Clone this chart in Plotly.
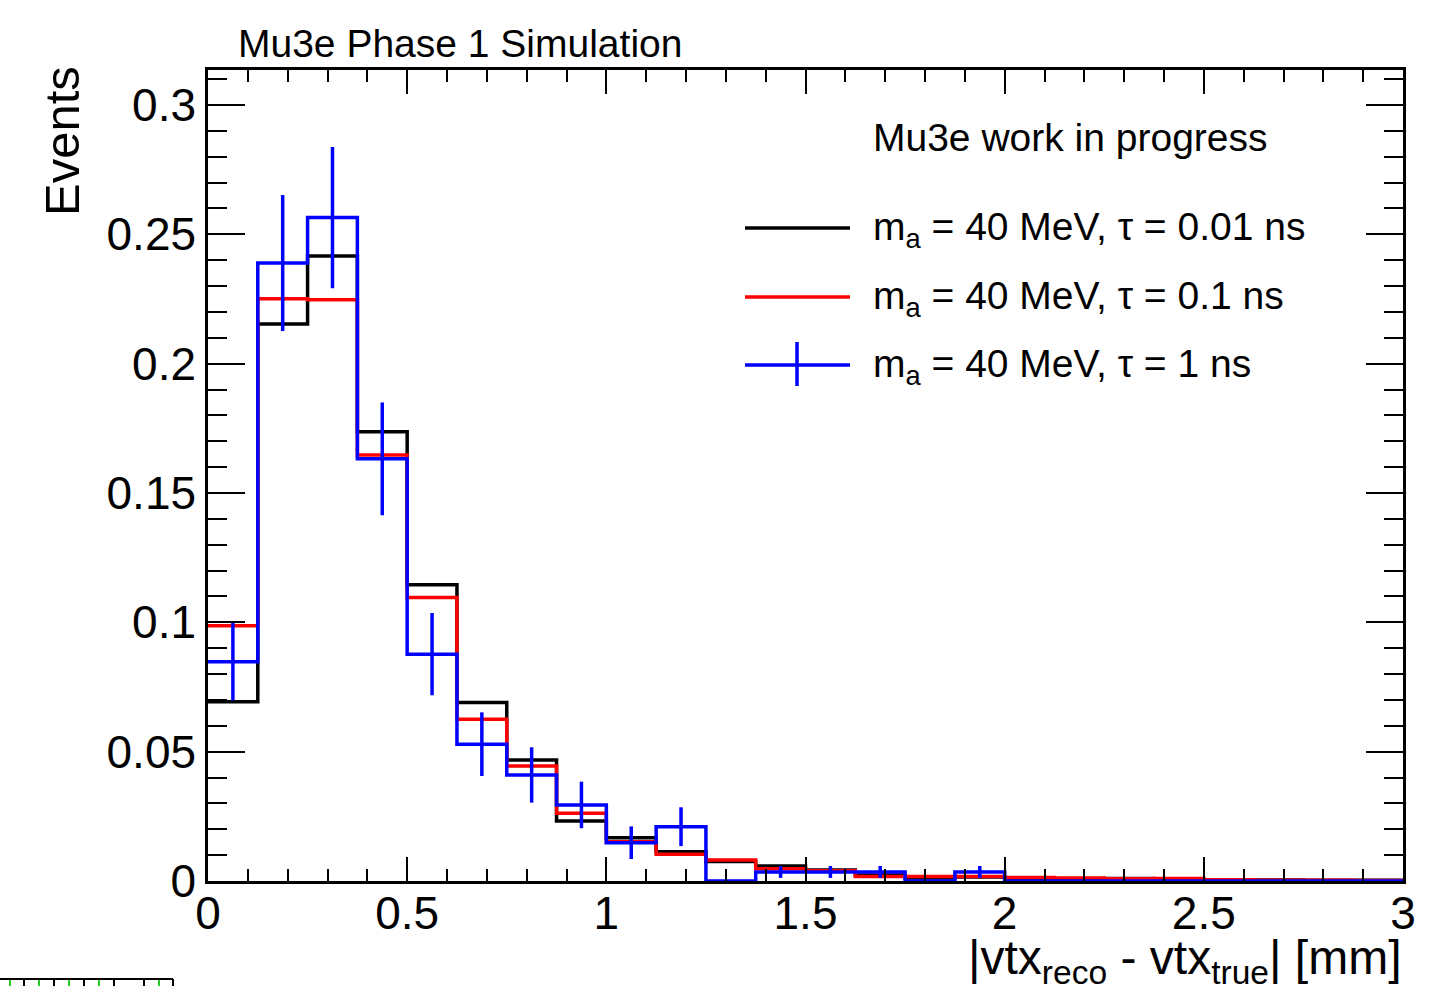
import plotly.graph_objects as go

# ---------------- data ----------------
bin_edges = [0.0, 0.125, 0.25, 0.375, 0.5, 0.625, 0.75, 0.875, 1.0, 1.125, 1.25, 1.375,
             1.5, 1.625, 1.75, 1.875, 2.0, 2.125, 2.25, 2.375, 2.5, 2.625, 2.75, 2.875, 3.0]

black_vals = [0.0693, 0.2153, 0.2416, 0.1737, 0.1145, 0.0690, 0.0468, 0.0232, 0.0167, 0.0113,
              0.0075, 0.0058, 0.0043, 0.0023, 0.0012, 0.0015, 0.0008, 0.0009, 0.0010, 0.0007,
              0.0004, 0.0004, 0.0003, 0.0003]
red_vals = [0.0987, 0.2251, 0.2247, 0.1647, 0.1096, 0.0625, 0.0445, 0.0262, 0.0152, 0.0103,
            0.0081, 0.0047, 0.0040, 0.0017, 0.0017, 0.0017, 0.0014, 0.0012, 0.0009, 0.0010,
            0.0005, 0.0003, 0.0003, 0.0002]
blue_vals = [0.0848, 0.2389, 0.2565, 0.1632, 0.0877, 0.0529, 0.0410, 0.0294, 0.0148, 0.0210,
             0.0, 0.0035, 0.0035, 0.0035, 0.0, 0.0035, 0.0, 0.0, 0.0, 0.0,
             0.0, 0.0, 0.0, 0.0]
blue_errs = [0.0150, 0.0263, 0.0273, 0.0218, 0.0159, 0.0123, 0.0107, 0.0090, 0.0063, 0.0075,
             0.0, 0.0023, 0.0023, 0.0023, 0.0, 0.0023, 0.0, 0.0, 0.0, 0.0,
             0.0, 0.0, 0.0, 0.0]

series_labels = ["m<sub>a</sub> = 40 MeV, \u03c4 = 0.01 ns",
                 "m<sub>a</sub> = 40 MeV, \u03c4 = 0.1 ns",
                 "m<sub>a</sub> = 40 MeV, \u03c4 = 1 ns"]
series_colors = ["#000000", "#ff0000", "#0000ff"]

x_tickvals = [0, 0.5, 1, 1.5, 2, 2.5, 3]
x_ticktext = ["0", "0.5", "1", "1.5", "2", "2.5", "3"]
y_tickvals = [0, 0.05, 0.1, 0.15, 0.2, 0.25, 0.3]
y_ticktext = ["0", "0.05", "0.1", "0.15", "0.2", "0.25", "0.3"]

FONT = "Liberation Sans, Arial, Helvetica, sans-serif"

# ---------------- figure ----------------
W, H = 1449, 986
ML, MR, MT, MB = 208, 46, 70, 105
PW, PH = W - ML - MR, H - MT - MB


def px_x(p):
    return (p - ML) / PW


def px_y(p):
    return (H - MB - p) / PH


def step_xy(vals):
    xs = list(bin_edges)
    ys = list(vals) + [vals[-1]]
    return xs, ys


fig = go.Figure()
for vals, col in zip([black_vals, red_vals, blue_vals], series_colors):
    xs, ys = step_xy(vals)
    fig.add_trace(go.Scatter(x=xs, y=ys, mode="lines", line=dict(color=col, width=3.5, shape="hv"),
                             showlegend=False, hoverinfo="skip"))

centers = [(bin_edges[i] + bin_edges[i + 1]) / 2 for i in range(len(blue_vals))]
eb_x = [c for c, e in zip(centers, blue_errs) if e > 0]
eb_y = [v for v, e in zip(blue_vals, blue_errs) if e > 0]
eb_e = [e for e in blue_errs if e > 0]
fig.add_trace(go.Scatter(x=eb_x, y=eb_y, mode="markers", marker=dict(size=1, color="#0000ff", opacity=0),
                         error_y=dict(type="data", array=eb_e, visible=True, color="#0000ff",
                                      thickness=3.5, width=0),
                         showlegend=False, hoverinfo="skip"))

axis_common = dict(showline=True, linecolor="black", linewidth=2.5, mirror="allticks",
                   ticks="inside", tickcolor="black", tickwidth=2, showgrid=False, zeroline=False,
                   tickfont=dict(family=FONT, size=46, color="black"))

fig.update_xaxes(range=[0, 3], tickmode="array", tickvals=x_tickvals, ticktext=x_ticktext,
                 ticklen=24, ticklabelstandoff=-10,
                 minor=dict(dtick=0.1, ticklen=12, tickwidth=2, tickcolor="black",
                            ticks="inside", showgrid=False),
                 **axis_common)
fig.update_yaxes(range=[0, (H - MB - MT) / 2586.7], tickmode="array", tickvals=y_tickvals,
                 ticktext=y_ticktext, ticklen=37,
                 minor=dict(dtick=0.01, ticklen=19, tickwidth=2, tickcolor="black",
                            ticks="inside", showgrid=False),
                 **axis_common)

annotations = []
shapes = []
# title
annotations.append(dict(text="Mu3e Phase 1 Simulation", x=px_x(236), y=px_y(43), xref="paper", yref="paper",
                        xanchor="left", yanchor="middle", showarrow=False,
                        font=dict(family=FONT, size=39, color="black")))
annotations.append(dict(text="Mu3e work in progress", x=px_x(871), y=px_y(137), xref="paper", yref="paper",
                        xanchor="left", yanchor="middle", showarrow=False,
                        font=dict(family=FONT, size=39, color="black")))
# y title
annotations.append(dict(text="Events", x=px_x(62), y=px_y(64), xref="paper", yref="paper",
                        xanchor="center", yanchor="top", textangle=-90, showarrow=False,
                        font=dict(family=FONT, size=49, color="black")))
# x title
annotations.append(dict(text="|vtx<sub>reco</sub> - vtx<sub>true</sub>| [mm]", x=1.0, y=px_y(929),
                        xref="paper", yref="paper", xanchor="right", yanchor="top", showarrow=False,
                        font=dict(family=FONT, size=48, color="black")))

# manual legend
leg_rows = [228, 297, 365]
for lab, col, ry in zip(series_labels, series_colors, leg_rows):
    shapes.append(dict(type="line", xref="paper", yref="paper", x0=px_x(745), x1=px_x(850),
                       y0=px_y(ry), y1=px_y(ry), line=dict(color=col, width=3.5)))
    annotations.append(dict(text=lab, x=px_x(871), y=px_y(ry + 2), xref="paper", yref="paper",
                            xanchor="left", yanchor="middle", showarrow=False,
                            font=dict(family=FONT, size=39, color="black")))
shapes.append(dict(type="line", xref="paper", yref="paper", x0=px_x(797), x1=px_x(797),
                   y0=px_y(342), y1=px_y(386), line=dict(color="#0000ff", width=3.5)))

# small fragment of a neighbouring frame at the bottom-left edge
shapes.append(dict(type="line", xref="paper", yref="paper", x0=px_x(0), x1=px_x(173),
                   y0=px_y(979), y1=px_y(979), line=dict(color="black", width=2)))
shapes.append(dict(type="line", xref="paper", yref="paper", x0=px_x(173), x1=px_x(173),
                   y0=px_y(979), y1=px_y(990), line=dict(color="black", width=2)))
for tx, tc in [(10, "#22cc22"), (24, "black"), (39, "#22cc22"), (54, "black"), (69, "#22cc22"),
               (84, "black"), (99, "#22cc22"), (114, "black"), (144, "black"), (159, "#22cc22")]:
    shapes.append(dict(type="line", xref="paper", yref="paper", x0=px_x(tx), x1=px_x(tx),
                       y0=px_y(980), y1=px_y(990), line=dict(color=tc, width=2)))

fig.update_layout(width=W, height=H, margin=dict(l=ML, r=MR, t=MT, b=MB),
                  paper_bgcolor="white", plot_bgcolor="white", showlegend=False,
                  annotations=annotations, shapes=shapes,
                  font=dict(family=FONT, color="black"))

fig.write_html("out.html")
